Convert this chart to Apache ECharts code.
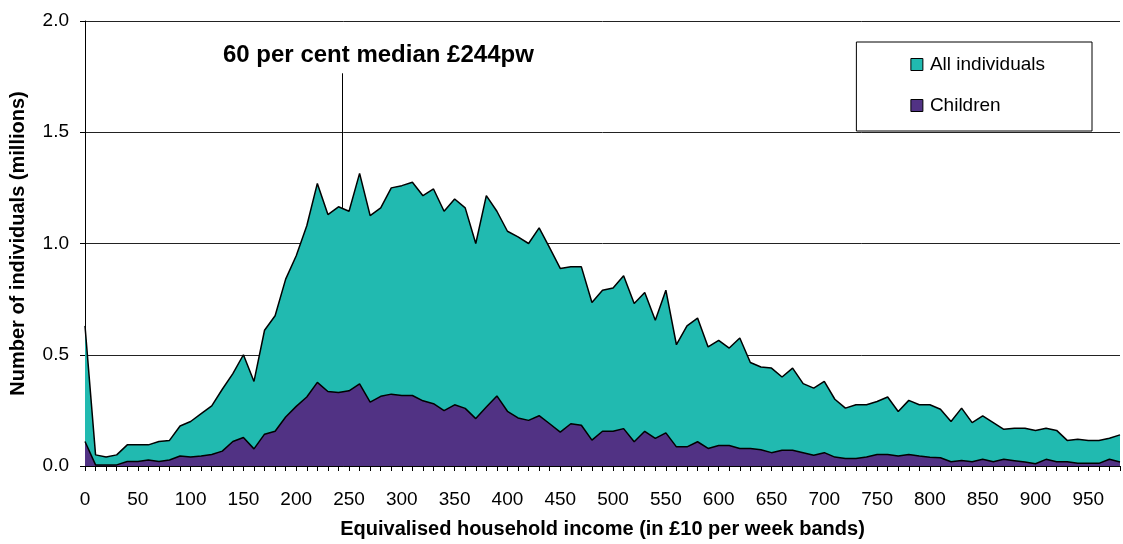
<!DOCTYPE html>
<html>
<head>
<meta charset="utf-8">
<script src="https://cdn.jsdelivr.net/npm/echarts@6/dist/echarts.min.js"></script>
<style>
html, body { margin: 0; padding: 0; background: #fff; }
#main { width: 1123px; height: 544px; }
</style>
</head>
<body>
<div id="main"></div>
<script>
// income bands (£ per week, lower bound of each £10 band)
var bands = [0, 10, 20, 30, 40, 50, 60, 70, 80, 90,
  100, 110, 120, 130, 140, 150, 160, 170, 180, 190,
  200, 210, 220, 230, 240, 250, 260, 270, 280, 290,
  300, 310, 320, 330, 340, 350, 360, 370, 380, 390,
  400, 410, 420, 430, 440, 450, 460, 470, 480, 490,
  500, 510, 520, 530, 540, 550, 560, 570, 580, 590,
  600, 610, 620, 630, 640, 650, 660, 670, 680, 690,
  700, 710, 720, 730, 740, 750, 760, 770, 780, 790,
  800, 810, 820, 830, 840, 850, 860, 870, 880, 890,
  900, 910, 920, 930, 940, 950, 960, 970, 980];

// millions of individuals in each band
var allIndividuals = [0.63, 0.05, 0.04, 0.05, 0.095, 0.095, 0.095, 0.11, 0.115, 0.18,
  0.20, 0.235, 0.27, 0.345, 0.415, 0.50, 0.38, 0.61, 0.675, 0.84,
  0.945, 1.08, 1.27, 1.13, 1.165, 1.145, 1.315, 1.125, 1.16, 1.25,
  1.26, 1.275, 1.215, 1.245, 1.145, 1.20, 1.16, 1.00, 1.215, 1.145,
  1.055, 1.03, 1.00, 1.07, 0.98, 0.888, 0.895, 0.895, 0.735, 0.79,
  0.80, 0.855, 0.73, 0.78, 0.655, 0.79, 0.545, 0.63, 0.665, 0.535,
  0.565, 0.53, 0.575, 0.465, 0.445, 0.44, 0.40, 0.44, 0.37, 0.35,
  0.38, 0.30, 0.26, 0.275, 0.275, 0.29, 0.31, 0.245, 0.295, 0.275,
  0.275, 0.255, 0.20, 0.26, 0.195, 0.225, 0.195, 0.165, 0.17, 0.17,
  0.16, 0.17, 0.16, 0.115, 0.12, 0.115, 0.115, 0.125, 0.14];

var children = [0.11, 0.005, 0.005, 0.005, 0.02, 0.02, 0.027, 0.02, 0.027, 0.045,
  0.04, 0.045, 0.052, 0.067, 0.11, 0.128, 0.077, 0.143, 0.156, 0.22,
  0.268, 0.31, 0.376, 0.335, 0.33, 0.338, 0.369, 0.287, 0.313, 0.323,
  0.317, 0.317, 0.293, 0.28, 0.249, 0.275, 0.259, 0.213, 0.265, 0.315,
  0.246, 0.216, 0.205, 0.226, 0.19, 0.152, 0.19, 0.183, 0.116, 0.156,
  0.156, 0.168, 0.109, 0.156, 0.124, 0.149, 0.086, 0.086, 0.109, 0.079,
  0.092, 0.092, 0.079, 0.079, 0.073, 0.06, 0.071, 0.071, 0.06, 0.048,
  0.06, 0.04, 0.034, 0.034, 0.04, 0.052, 0.052, 0.045, 0.052, 0.045,
  0.039, 0.037, 0.019, 0.025, 0.019, 0.03, 0.019, 0.03, 0.024, 0.018,
  0.01, 0.03, 0.019, 0.019, 0.012, 0.012, 0.012, 0.03, 0.018];

var medianLine = 244;   // 60 per cent of median, £pw
var medianText = '60 per cent median £244pw';

function pairs(values) {
  return values.map(function (v, i) { return [bands[i], v]; });
}

var font = 'Liberation Sans, Arial, sans-serif';
var myChart = echarts.init(document.getElementById('main'));

option = {
  animation: false,
  textStyle: { fontFamily: font },
  grid: { left: 84, right: 0, top: 21, bottom: 74 },
  legend: {
    orient: 'vertical',
    right: 31,
    top: 42,
    padding: [13, 47, 16, 54],
    itemGap: 22,
    itemWidth: 12,
    itemHeight: 12,
    icon: 'rect',
    borderColor: '#000',
    borderWidth: 1,
    backgroundColor: '#fff',
    itemStyle: { borderColor: '#000', borderWidth: 1 },
    textStyle: { fontSize: 19, color: '#000', fontFamily: font, padding: [0, 0, 0, 2] },
    data: ['All individuals', 'Children']
  },
  xAxis: {
    type: 'value',
    min: 0,
    max: 980,
    interval: 10,
    name: 'Equivalised household income (in £10 per week bands)',
    nameLocation: 'middle',
    nameGap: 53,
    nameTextStyle: { fontSize: 20, fontWeight: 'bold', color: '#000', fontFamily: font },
    axisLine: { lineStyle: { color: '#000', width: 1 } },
    axisTick: { length: 5, lineStyle: { color: '#000' } },
    axisLabel: {
      fontSize: 19, color: '#000', margin: 24,
      formatter: function (v) { return v % 50 === 0 ? String(v) : ''; }
    },
    splitLine: { show: false }
  },
  yAxis: {
    type: 'value',
    min: 0,
    max: 2,
    interval: 0.5,
    name: 'Number of individuals (millions)',
    nameLocation: 'middle',
    nameGap: 57,
    nameTextStyle: { fontSize: 20, fontWeight: 'bold', color: '#000', fontFamily: font },
    axisLine: { show: true, lineStyle: { color: '#000', width: 1 } },
    axisTick: { show: true, length: 5, lineStyle: { color: '#000' } },
    axisLabel: {
      fontSize: 19, color: '#000', margin: 16,
      formatter: function (v) { return v.toFixed(1); }
    },
    splitLine: { lineStyle: { color: '#222', width: 1 } }
  },
  graphic: [{
    type: 'text',
    left: 223,
    top: 43,
    style: { text: medianText, font: 'bold 24px ' + font, fill: '#000' }
  }],
  series: [
    {
      name: 'All individuals',
      type: 'line',
      data: pairs(allIndividuals),
      symbol: 'none',
      color: '#21BAB0',
      lineStyle: { color: '#000', width: 1.5 },
      areaStyle: { color: '#21BAB0', opacity: 1 },
      itemStyle: { color: '#21BAB0' },
      z: 2,
      markLine: {
        silent: true,
        symbol: 'none',
        label: { show: false },
        lineStyle: { color: '#000', width: 1, type: 'solid' },
        data: [[{ coord: [medianLine, 1.16] }, { coord: [medianLine, 1.765] }]]
      }
    },
    {
      name: 'Children',
      type: 'line',
      data: pairs(children),
      symbol: 'none',
      color: '#513284',
      lineStyle: { color: '#000', width: 1.5 },
      areaStyle: { color: '#513284', opacity: 1 },
      itemStyle: { color: '#513284' },
      z: 3
    }
  ]
};

myChart.setOption(option);
</script>
</body>
</html>
